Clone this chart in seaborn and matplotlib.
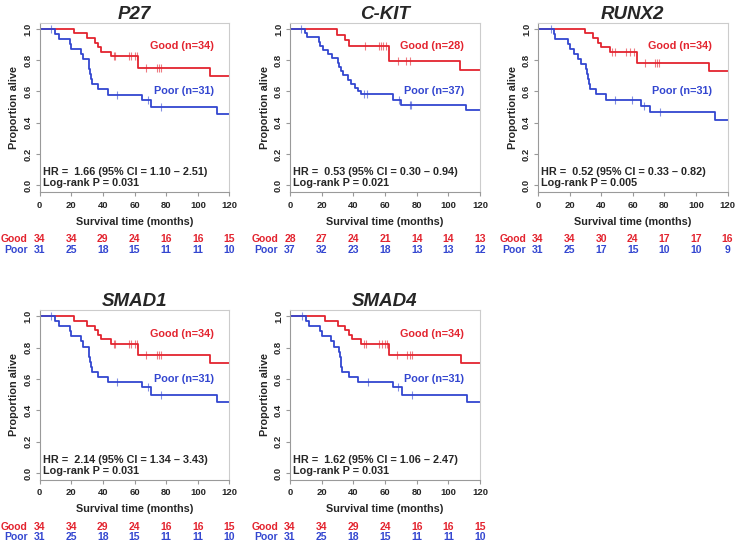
import numpy as np
import pandas as pd
import matplotlib
matplotlib.use('Agg')
import matplotlib.pyplot as plt
import matplotlib.transforms as mtransforms
import seaborn as sns

sns.set_theme(style='white')
plt.rcParams['font.family'] = ['Liberation Sans', 'DejaVu Sans']
plt.rcParams['font.weight'] = 'bold'

red = '#e3242f'
blue = '#3346d0'

# ---- data ----
risk_times = [0, 20, 40, 60, 80, 100, 120]

# P27 (also used for SMAD1 / SMAD4, curves are identical)
p27_good_t = [22, 30, 35, 37, 39, 45, 62.5, 108]
p27_good_s = [0.971, 0.941, 0.912, 0.882, 0.853, 0.824, 0.75, 0.70]
p27_good_cens = [47, 48, 56.5, 58, 60, 61.5, 67.5, 74, 75.5, 77]
p27_poor_t = [10, 12, 19, 20, 26, 27.5, 31, 31.5, 32, 32.5, 33, 37, 43, 65, 70.5, 112]
p27_poor_s = [0.968, 0.935, 0.903, 0.871, 0.839, 0.806, 0.774, 0.742, 0.710, 0.677,
              0.645, 0.613, 0.58, 0.548, 0.50, 0.455]
p27_poor_cens = [7.5, 49, 68.5, 77]
p27_good_risk = [34, 34, 29, 24, 16, 16, 15]
p27_poor_risk = [31, 25, 18, 15, 11, 11, 10]

# C-KIT
ckit_good_t = [29.5, 34.5, 37, 62.5, 107.5]
ckit_good_s = [0.964, 0.929, 0.893, 0.794, 0.735]
ckit_good_cens = [47.5, 56, 57.5, 59, 60.5, 68, 73.5, 75.5]
ckit_poor_t = [9.5, 11, 18, 19, 21, 24, 26.5, 30, 31, 32, 33.5, 36.5, 38.5, 41, 43, 45,
               65, 70, 111]
ckit_poor_s = [0.973, 0.946, 0.919, 0.892, 0.865, 0.838, 0.811, 0.784, 0.757, 0.730,
               0.703, 0.676, 0.649, 0.622, 0.60, 0.581, 0.548, 0.513, 0.479]
ckit_poor_cens = [7, 47, 48.5, 69, 75.5, 76.5]
ckit_good_risk = [28, 27, 24, 21, 14, 14, 13]
ckit_poor_risk = [37, 32, 23, 18, 13, 13, 12]

# RUNX2
runx_good_t = [30, 35, 38, 40, 45.5, 63, 108]
runx_good_s = [0.971, 0.941, 0.912, 0.882, 0.853, 0.78, 0.73]
runx_good_cens = [47, 48.5, 56, 58.5, 60.5, 67.5, 74, 75.5, 76.5]
runx_poor_t = [10, 11, 19, 20.5, 23, 25.5, 27.5, 30.5, 31, 31.5, 32, 33, 36.5, 43, 65, 71, 112]
runx_poor_s = [0.968, 0.935, 0.903, 0.871, 0.839, 0.806, 0.774, 0.742, 0.710, 0.677,
               0.645, 0.613, 0.581, 0.548, 0.51, 0.47, 0.42]
runx_poor_cens = [8, 49, 59.5, 67, 77.5]
runx_good_risk = [34, 34, 30, 24, 17, 17, 16]
runx_poor_risk = [31, 25, 17, 15, 10, 10, 9]

panels = [
    dict(title='P27', good=(p27_good_t, p27_good_s, p27_good_cens, p27_good_risk, 34),
         poor=(p27_poor_t, p27_poor_s, p27_poor_cens, p27_poor_risk, 31),
         hr='HR =  1.66 (95% CI = 1.10 \u2013 2.51)', p='Log-rank P = 0.031'),
    dict(title='C-KIT', good=(ckit_good_t, ckit_good_s, ckit_good_cens, ckit_good_risk, 28),
         poor=(ckit_poor_t, ckit_poor_s, ckit_poor_cens, ckit_poor_risk, 37),
         hr='HR =  0.53 (95% CI = 0.30 \u2013 0.94)', p='Log-rank P = 0.021'),
    dict(title='RUNX2', good=(runx_good_t, runx_good_s, runx_good_cens, runx_good_risk, 34),
         poor=(runx_poor_t, runx_poor_s, runx_poor_cens, runx_poor_risk, 31),
         hr='HR =  0.52 (95% CI = 0.33 \u2013 0.82)', p='Log-rank P = 0.005'),
    dict(title='SMAD1', good=(p27_good_t, p27_good_s, p27_good_cens, p27_good_risk, 34),
         poor=(p27_poor_t, p27_poor_s, p27_poor_cens, p27_poor_risk, 31),
         hr='HR =  2.14 (95% CI = 1.34 \u2013 3.43)', p='Log-rank P = 0.031'),
    dict(title='SMAD4', good=(p27_good_t, p27_good_s, p27_good_cens, p27_good_risk, 34),
         poor=(p27_poor_t, p27_poor_s, p27_poor_cens, p27_poor_risk, 31),
         hr='HR =  1.62 (95% CI = 1.06 \u2013 2.47)', p='Log-rank P = 0.031'),
]

# axes boxes in figure pixels (left, top, right, bottom)
W, H = 737, 544
boxes = [(39.5, 22.7, 229.5, 192.3), (290, 22.7, 480, 192.3), (538, 22.7, 727.5, 192.3),
         (39.5, 310, 229.5, 480), (290, 310, 480, 480)]

fig = plt.figure(figsize=(W / 100, H / 100), dpi=100)


def step_df(times, surv):
    t = [0] + list(times) + [120]
    s = [1.0] + list(surv) + [surv[-1]]
    return pd.DataFrame({'time': t, 'surv': s})


def surv_at(times, surv, cens):
    idx = np.searchsorted(np.array(times), np.array(cens), side='right')
    s = np.r_[1.0, surv]
    return s[idx]


for panel, (l, t, r, b) in zip(panels, boxes):
    ax = fig.add_axes([l / W, 1 - b / H, (r - l) / W, (b - t) / H])
    for key, col in [('good', red), ('poor', blue)]:
        times, surv, cens, risk, n = panel[key]
        df = step_df(times, surv)
        sns.lineplot(data=df, x='time', y='surv', ax=ax, color=col, lw=1.3,
                     drawstyle='steps-post', estimator=None, sort=False)
        cdf = pd.DataFrame({'time': cens, 'surv': surv_at(times, surv, cens)})
        sns.scatterplot(data=cdf, x='time', y='surv', ax=ax, color=col, marker='|',
                        s=30, linewidth=0.8, alpha=0.6)

    ax.set_xlim(0, 120)
    ax.set_ylim(-0.045, 1.04)
    ax.set_xticks(risk_times)
    ax.set_yticks([0, 0.2, 0.4, 0.6, 0.8, 1.0])
    ax.set_yticklabels(['0.0', '0.2', '0.4', '0.6', '0.8', '1.0'], rotation=90, va='center')
    ax.tick_params(axis='both', labelsize=6.8, length=3, width=0.8, color='#999999',
                   bottom=True, left=True)
    ax.tick_params(axis='x', pad=3)
    ax.tick_params(axis='y', pad=2)
    for lab in ax.get_xticklabels() + ax.get_yticklabels():
        lab.set_fontweight('bold')
    for side in ['top', 'right']:
        ax.spines[side].set_color('#cccccc')
    for side in ['left', 'bottom']:
        ax.spines[side].set_color('#9a9a9a')
    for sp in ax.spines.values():
        sp.set_linewidth(0.8)

    ax.set_xlabel('Survival time (months)', fontsize=7.8, fontweight='bold', labelpad=5)
    ax.set_ylabel('Proportion alive', fontsize=7.8, fontweight='bold', labelpad=3)
    ax.set_title(panel['title'], fontsize=13.5, fontweight='bold', style='italic', pad=3)

    ax.text(110, 0.89, f"Good (n={panel['good'][4]})", color=red, fontsize=7.8,
            fontweight='bold', ha='right', va='center')
    ax.text(110, 0.60, f"Poor (n={panel['poor'][4]})", color=blue, fontsize=7.8,
            fontweight='bold', ha='right', va='center')
    ax.text(2, 0.085, panel['hr'], fontsize=7.8, fontweight='bold', ha='left', va='center')
    ax.text(2, 0.012, panel['p'], fontsize=7.8, fontweight='bold', ha='left', va='center')

    # numbers at risk
    trans = mtransforms.blended_transform_factory(ax.transData, ax.transAxes)
    ax_h = b - t
    for key, col, dy in [('good', red, 47), ('poor', blue, 57.5)]:
        yy = -dy / ax_h
        risk = panel[key][3]
        ax.text(-7.5, yy, key.capitalize(), color=col, fontsize=7.5, fontweight='bold',
                ha='right', va='center', transform=trans, clip_on=False)
        for x, v in zip(risk_times, risk):
            ax.text(x, yy, str(v), color=col, fontsize=7.5, fontweight='bold',
                    ha='center', va='center', transform=trans, clip_on=False)

fig.savefig('out.png', dpi=100)
